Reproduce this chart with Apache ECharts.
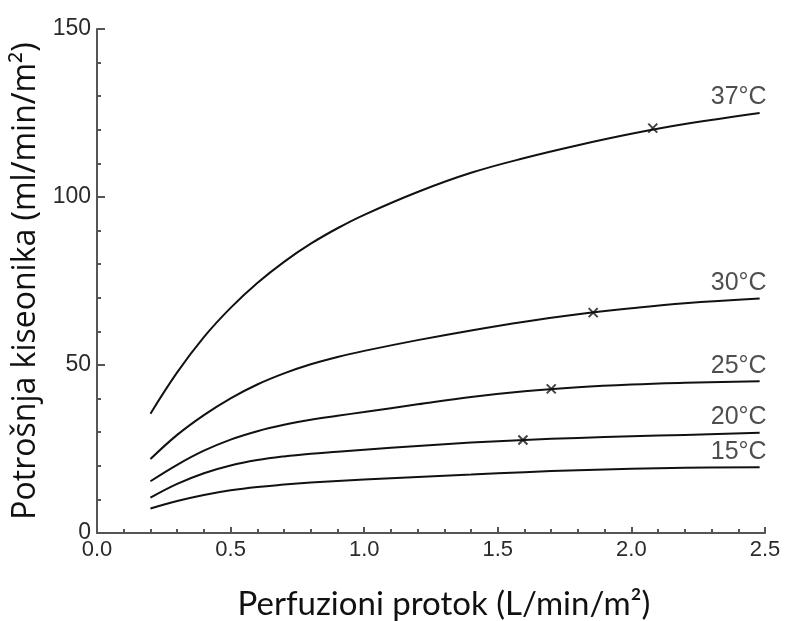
<!DOCTYPE html>
<html>
<head>
    <meta charset="utf-8">
    <title>Potrosnja kiseonika</title>
    <script type="text/javascript" src="https://cdn.jsdelivr.net/npm/echarts@6/dist/echarts.min.js"></script>
</head>
<body style="margin:0; background:#fff;">
    <div id="main" style="width:789px; height:621px;"></div>
    <script type="text/javascript">

    // 横轴取样点 (L/min/m2)
    var protok = [0.2, 0.3, 0.4, 0.5, 0.6, 0.7, 0.8, 0.9, 1.0, 1.2, 1.4, 1.6, 1.8, 2.0, 2.2, 2.48];

    // 各温度曲线 (ml/min/m2)
    var t37 = [35.5, 47.8, 58.3, 67.0, 74.4, 80.7, 86.1, 90.7, 94.7, 101.5, 107.2, 111.6, 115.4, 118.8, 121.7, 125.0];
    var t30 = [22.0, 29.2, 35.1, 40.1, 44.2, 47.5, 50.2, 52.4, 54.2, 57.4, 60.3, 62.9, 65.1, 66.9, 68.4, 69.8];
    var t25 = [15.4, 20.3, 24.5, 27.8, 30.3, 32.2, 33.7, 34.9, 36.0, 38.3, 40.5, 42.2, 43.4, 44.2, 44.7, 45.2];
    var t20 = [10.5, 14.6, 17.8, 20.1, 21.7, 22.8, 23.6, 24.2, 24.8, 25.9, 26.9, 27.7, 28.3, 28.8, 29.2, 29.8];
    var t15 = [7.3, 9.5, 11.3, 12.7, 13.7, 14.4, 15.0, 15.5, 15.9, 16.7, 17.4, 18.1, 18.7, 19.1, 19.4, 19.6];

    var nazivi = ['37°C', '30°C', '25°C', '20°C', '15°C'];

    // 曲线上的 x 标记
    var oznakeX = [2.08, 1.857, 1.70, 1.594];
    var oznakeY = [120.5, 65.6, 42.9, 27.7];

    var krive = [t37, t30, t25, t20, t15];

    function parovi(ys) {
        return protok.map(function (x, i) { return [x, ys[i]]; });
    }

    var series = krive.map(function (ys, k) {
        return {
            name: nazivi[k],
            type: 'line',
            smooth: 0.4,
            symbol: 'none',
            lineStyle: { color: '#111', width: 2 },
            data: parovi(ys)
        };
    });

    // 温度标签放在曲线末端上方
    series.push({
        type: 'scatter',
        symbolSize: 0,
        label: {
            show: true,
            position: 'top',
            align: 'right',
            distance: 3,
            offset: [7, 0],
            formatter: function (p) { return nazivi[p.dataIndex]; },
            color: '#222',
            fontFamily: 'Liberation Sans',
            fontSize: 25
        },
        data: krive.map(function (ys) { return [protok[protok.length - 1], ys[ys.length - 1]]; })
    });

    series.push({
        type: 'scatter',
        symbol: 'path://M0,0L10,10M10,0L0,10',
        symbolSize: 9,
        itemStyle: { color: 'none', borderColor: '#111', borderWidth: 2 },
        data: oznakeX.map(function (x, i) { return [x, oznakeY[i]]; })
    });

    var myChart = echarts.init(document.getElementById('main'));

    var option = {
        animation: false,
        grid: { left: 97, right: 24, top: 29, bottom: 88, outerBoundsMode: 'none', containLabel: false },
        xAxis: {
            type: 'value',
            min: 0,
            max: 2.5,
            interval: 0.5,
            name: 'Perfuzioni protok (L/min/m²)',
            nameLocation: 'middle',
            nameGap: 55,
            nameTextStyle: { fontFamily: 'Lato', fontSize: 33, color: '#111', padding: [0, 0, 0, 26] },
            axisLine: { lineStyle: { color: '#555', width: 2 } },
            axisTick: { inside: true, length: 6, lineStyle: { color: '#555', width: 2 } },
            minorTick: { show: true, splitNumber: 5, length: 4, lineStyle: { color: '#555', width: 2 } },
            splitLine: { show: false },
            axisLabel: {
                fontFamily: 'Liberation Sans',
                fontSize: 22,
                color: '#2a2a2a',
                margin: 6,
                formatter: function (v) { return v.toFixed(1); }
            }
        },
        yAxis: {
            type: 'value',
            min: 0,
            max: 150,
            interval: 50,
            name: 'Potrošnja kiseonika (ml/min/m²)',
            nameLocation: 'middle',
            nameGap: 52,
            nameTextStyle: { fontFamily: 'Open Sans', fontSize: 32, color: '#111' },
            axisLine: { show: true, lineStyle: { color: '#555', width: 2 } },
            axisTick: { show: true, inside: true, length: 8, lineStyle: { color: '#555', width: 2 } },
            minorTick: { show: true, splitNumber: 5, length: 4, lineStyle: { color: '#555', width: 2 } },
            splitLine: { show: false },
            axisLabel: {
                fontFamily: 'Liberation Sans',
                fontSize: 23,
                color: '#2a2a2a',
                margin: 6
            }
        },
        series: series
    };

    myChart.setOption(option);

    </script>
</body>
</html>
